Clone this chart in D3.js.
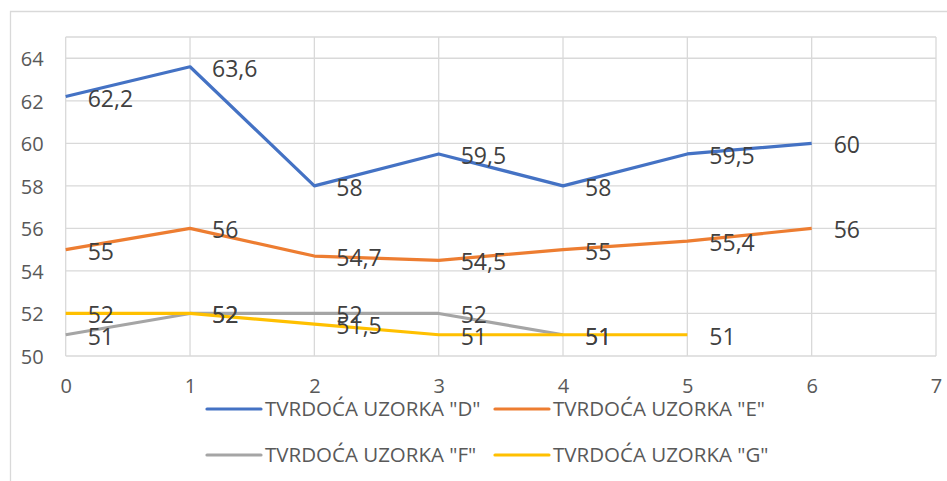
<!DOCTYPE html>
<html><head><meta charset="utf-8">
<script src="https://cdn.jsdelivr.net/npm/d3@7"></script>
<style>
html,body{margin:0;padding:0;background:#fff;}
svg{display:block;font-family:"Open Sans",sans-serif;}
</style></head>
<body>
<svg id="c" width="947" height="481"></svg>
<script>
const seriesNames = ['TVRDOĆA UZORKA "D"','TVRDOĆA UZORKA "E"','TVRDOĆA UZORKA "F"','TVRDOĆA UZORKA "G"'];
const seriesColors = ["#4472C4","#ED7D31","#A5A5A5","#FFC000"];
const valuesD = [62.2,63.6,58,59.5,58,59.5,60];
const valuesE = [55,56,54.7,54.5,55,55.4,56];
const valuesF = [51,52,52,52,51];
const valuesG = [52,52,51.5,51,51,51];
const xTicks = [0,1,2,3,4,5,6,7];
const yTicks = [50,52,54,56,58,60,62,64];
const allSeries = [valuesD,valuesE,valuesF,valuesG];

const svg = d3.select("#c");
const x = d3.scaleLinear().domain([0,7]).range([65.7,936]);
const y = d3.scaleLinear().domain([50,65]).range([356,37]);
const fmt = v => String(v).replace(".", ",");

// outer chart border (left + top visible)
svg.append("path").attr("d","M10.5,481 V11.5 H947").attr("fill","none").attr("stroke","#D9D9D9").attr("stroke-width",1.3);

// gridlines
const g = svg.append("g");
g.selectAll("line.h").data(yTicks.concat([65])).join("line")
  .attr("x1",x(0)).attr("x2",x(7)).attr("y1",d=>y(d)).attr("y2",d=>y(d))
  .attr("stroke","#D9D9D9").attr("stroke-width",1.3);
g.selectAll("line.v").data(xTicks).join("line")
  .attr("y1",y(50)).attr("y2",y(65)).attr("x1",d=>x(d)).attr("x2",d=>x(d))
  .attr("stroke","#D9D9D9").attr("stroke-width",1.3);

// axes (labels only)
const yAxis = d3.axisLeft(y).tickValues(yTicks).tickFormat(d3.format("d")).tickSize(0).tickPadding(22);
const ya = svg.append("g").attr("transform",`translate(${x(0)},0)`).call(yAxis);
ya.select(".domain").remove();
ya.selectAll("text").attr("font-size",20).attr("fill","#595959").attr("font-family","Open Sans").attr("dy","0.36em");

const xAxis = d3.axisBottom(x).tickValues(xTicks).tickFormat(d3.format("d")).tickSize(0).tickPadding(0);
const xa = svg.append("g").attr("transform",`translate(0,${y(50)})`).call(xAxis);
xa.select(".domain").remove();
xa.selectAll("text").attr("font-size",20).attr("fill","#595959").attr("font-family","Open Sans").attr("dy",null).attr("y",37);

// lines
const line = d3.line().x((d,i)=>x(i)).y(d=>y(d));
allSeries.forEach((vals,si)=>{
  svg.append("path").datum(vals).attr("d",line).attr("fill","none")
    .attr("stroke",seriesColors[si]).attr("stroke-width",3.2).attr("stroke-linejoin","round");
});

// labels
allSeries.forEach((vals,si)=>{
  svg.append("g").selectAll("text").data(vals).join("text")
    .attr("x",(d,i)=>x(i)+22).attr("y",d=>y(d)+10)
    .attr("font-size",23).attr("fill","#404040").text(d=>fmt(d));
});

// legend
const legPos = [[207,409],[495,409],[207,455],[495,455]];
seriesNames.forEach((n,i)=>{
  const [lx,ly] = legPos[i];
  svg.append("line").attr("x1",lx).attr("x2",lx+54).attr("y1",ly).attr("y2",ly)
    .attr("stroke",seriesColors[i]).attr("stroke-width",3.2).attr("stroke-linecap","round");
  svg.append("text").attr("x",lx+58).attr("y",ly+7).attr("font-size",20.5)
    .attr("fill","#595959").text(n);
});
</script>
</body></html>
